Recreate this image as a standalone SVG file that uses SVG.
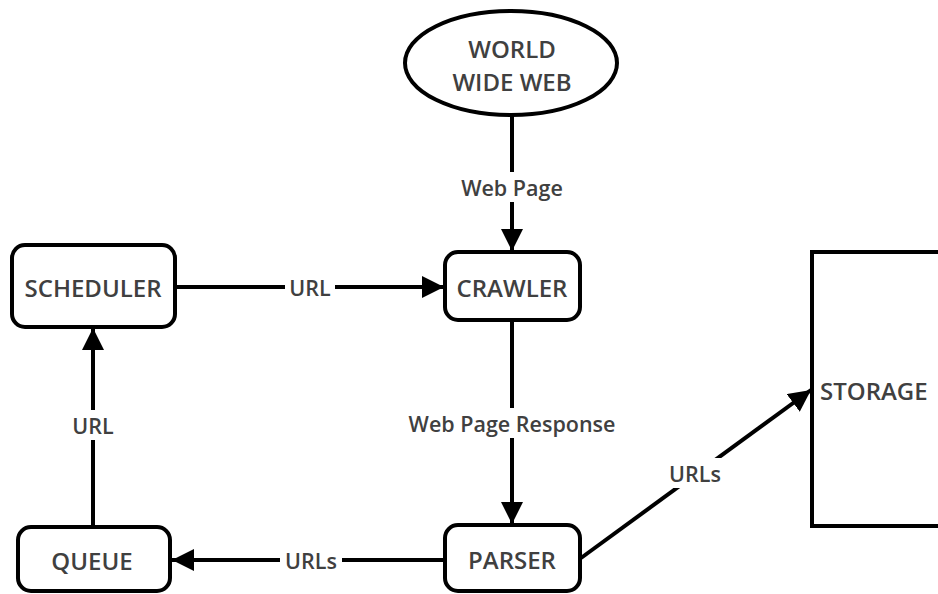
<svg xmlns="http://www.w3.org/2000/svg" width="938" height="594" viewBox="0 0 938 594">
  <style>
    .box { fill: #ffffff; stroke: #000000; stroke-width: 4; }
    .node-text { font-family: "Open Sans", "Liberation Sans", sans-serif; font-size: 24px; font-weight: 600; fill: #404040; text-anchor: middle; dominant-baseline: central; }
    .edge { stroke: #000000; stroke-width: 4; fill: none; marker-end: url(#arrow); }
    .edge-label { font-family: "Open Sans", "Liberation Sans", sans-serif; font-size: 21.5px; font-weight: 600; fill: #404040; text-anchor: middle; dominant-baseline: central; }
    .label-bg { fill: #ffffff; }
  </style>
  <defs>
    <marker id="arrow" viewBox="0 0 10 10" refX="10" refY="5" markerWidth="5.5" markerHeight="5.5" markerUnits="strokeWidth" orient="auto">
      <path d="M0,0 L10,5 L0,10 Z" fill="#000000"/>
    </marker>
  </defs>
  <rect width="938" height="594" fill="#ffffff"/>

  <!-- connectors -->
  <g id="connectors">
    <line class="edge" x1="512" y1="116" x2="512" y2="251"/>
    <line class="edge" x1="177" y1="287" x2="444" y2="287"/>
    <line class="edge" x1="512" y1="321" x2="512" y2="524"/>
    <line class="edge" x1="444" y1="560" x2="172" y2="560"/>
    <line class="edge" x1="93" y1="526" x2="93" y2="328"/>
    <line class="edge" x1="581" y1="558" x2="811" y2="390"/>

    <rect class="label-bg" x="454" y="172" width="116" height="30"/>
    <text class="edge-label" x="512" y="187">Web Page</text>
    <rect class="label-bg" x="285" y="276" width="50" height="22"/>
    <text class="edge-label" x="310" y="287">URL</text>
    <rect class="label-bg" x="400" y="408" width="224" height="30"/>
    <text class="edge-label" x="512" y="423">Web Page Response</text>
    <rect class="label-bg" x="68" y="410" width="50" height="30"/>
    <text class="edge-label" x="93" y="425">URL</text>
    <rect class="label-bg" x="280" y="549" width="62" height="22"/>
    <text class="edge-label" x="311" y="560">URLs</text>
    <rect class="label-bg" x="663" y="458" width="64" height="30"/>
    <text class="edge-label" x="695" y="473">URLs</text>
  </g>

  <g id="world-wide-web">
    <ellipse class="box" cx="511" cy="63" rx="106" ry="52"/>
    <text class="node-text" x="512" y="48">WORLD</text>
    <text class="node-text" x="512" y="81">WIDE WEB</text>
  </g>

  <g id="scheduler">
    <rect class="box" x="12" y="245" width="163" height="82" rx="13"/>
    <text class="node-text" x="93" y="287">SCHEDULER</text>
  </g>

  <g id="crawler">
    <rect class="box" x="445" y="252" width="135" height="68" rx="13"/>
    <text class="node-text" x="512" y="287">CRAWLER</text>
  </g>

  <g id="parser">
    <rect class="box" x="445" y="525" width="135" height="66" rx="13"/>
    <text class="node-text" x="512" y="559">PARSER</text>
  </g>

  <g id="queue">
    <rect class="box" x="18" y="527" width="152" height="64" rx="13"/>
    <text class="node-text" x="92" y="560">QUEUE</text>
  </g>

  <g id="storage">
    <rect class="box" x="812" y="252" width="140" height="274"/>
    <text class="node-text" x="820" y="390" style="text-anchor: start;">STORAGE</text>
  </g>
</svg>
